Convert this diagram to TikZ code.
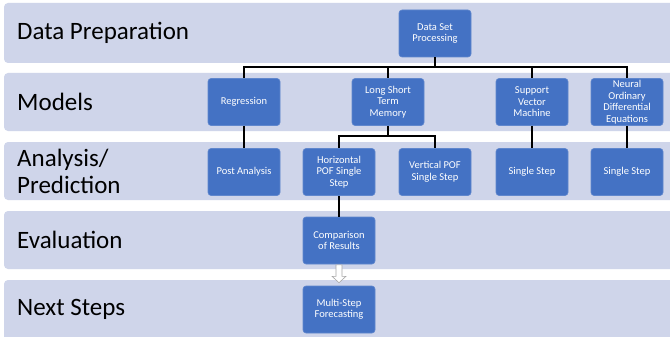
\documentclass[tikz,border=0pt]{standalone}
\usepackage{fontspec}
\setmainfont{Carlito}
\usepackage{tikz}
\usetikzlibrary{arrows}
\usetikzlibrary{calc}
\definecolor{bandcol}{HTML}{CFD5EA}
\definecolor{boxcol}{HTML}{4472C4}

\begin{document}
\begin{tikzpicture}[x=1pt,y=-1pt,
    band/.style={fill=bandcol, rounded corners=4pt},
    lbl/.style={anchor=west, font=\fontsize{25}{27}\selectfont, align=left, inner sep=0pt},
    box/.style={fill=boxcol, draw=boxcol!85!white, line width=0.6pt, rounded corners=3pt, minimum width=72pt, minimum height=47pt, align=center, text=white, inner sep=1pt, font=\fontsize{10.5}{11.5}\selectfont},
    link/.style={black, line width=1.5pt}]
     \useasboundingbox (0,0) rectangle (670,337);
     \clip (0,0) rectangle (670,337);
     \fill[white] (0,0) rectangle (670,337);

     \fill[band] (4,3) rectangle (690,63);
     \fill[band] (4,73) rectangle (690,131);
     \fill[band] (4,142) rectangle (690,200);
     \fill[band] (4,211) rectangle (690,269);
     \fill[band] (4,280) rectangle (690,350);

     \node[lbl] (prep) at (17,33) {Data Preparation};
     \node[lbl] (models) at (17,102) {Models};
     \node[lbl] (anal) at (17,171) {Analysis/\\Prediction};
     \node[lbl] (eval) at (17,240) {Evaluation};
     \node[lbl] (next) at (17,309) {Next Steps};

     \node[box] (dsp) at (435,33.5) {Data Set\\Processing};

     \node[box] (reg) at (244,102) {Regression};
     \node[box] (lstm) at (388,102) {Long Short\\Term\\Memory};
     \node[box] (svm) at (532,102) {Support\\Vector\\Machine};
     \node[box] (node) at (627,102) {Neural\\Ordinary\\Differential\\Equations};

     \node[box] (post) at (244,172) {Post Analysis};
     \node[box] (hor) at (339,172) {Horizontal\\POF Single\\Step};
     \node[box] (ver) at (435,172) {Vertical POF\\Single Step};
     \node[box] (ssa) at (532,172) {Single Step};
     \node[box] (ssb) at (627,172) {Single Step};

     \node[box] (comp) at (339,240.5) {Comparison\\of Results};
     \node[box] (multi) at (339,309.5) {Multi-Step\\Forecasting};

     \coordinate (busa) at (0,67);
     \coordinate (busb) at (0,136);

     \draw[link] (dsp.south) -- (dsp.south |- busa) -| (reg.north);
     \draw[link] (dsp.south |- busa) -| (lstm.north);
     \draw[link] (dsp.south |- busa) -| (svm.north);
     \draw[link] (dsp.south |- busa) -| (node.north);

     \draw[link] (lstm.south) -- (lstm.south |- busb) -| (hor.north);
     \draw[link] (lstm.south |- busb) -| (ver.north);

     \draw[link] (reg) -- (post);
     \draw[link] (svm) -- (ssa);
     \draw[link] (node) -- (ssb);
     \draw[link] (hor) -- (comp);

     \filldraw[draw=gray!70, fill=white, line width=0.6pt]
          ($(comp.south)+(-3,0.5)$) -- ($(comp.south)+(3,0.5)$) -- ($(comp.south)+(3,12)$)
          -- ($(comp.south)+(7,12)$) -- ($(multi.north)+(0,-3)$) -- ($(comp.south)+(-7,12)$)
          -- ($(comp.south)+(-3,12)$) -- cycle;
\end{tikzpicture}
\end{document}
